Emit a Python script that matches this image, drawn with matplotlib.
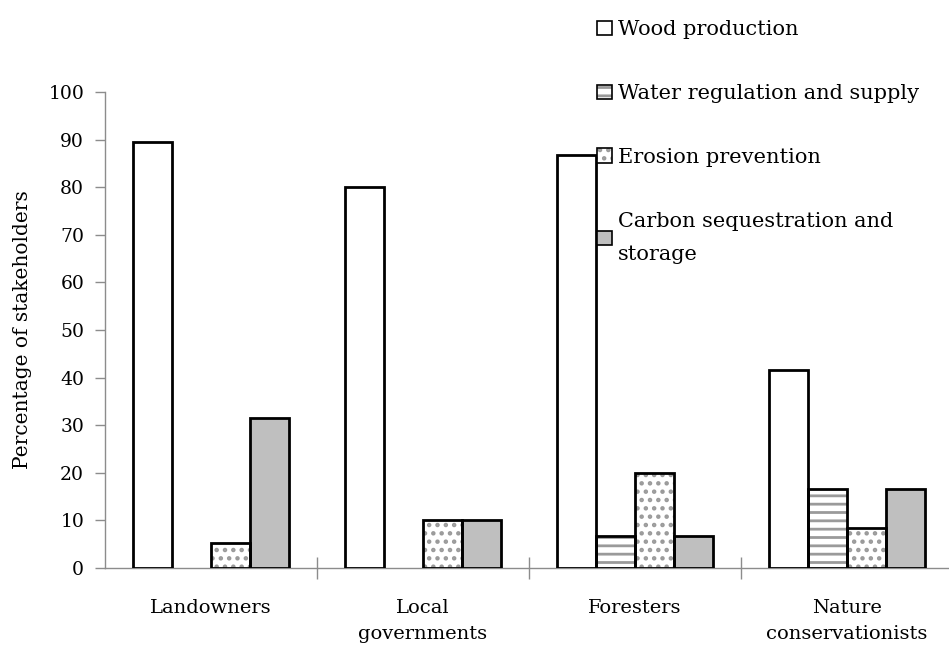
import numpy as np
import matplotlib
matplotlib.use("Agg")
import matplotlib.pyplot as plt
from matplotlib.patches import Rectangle

# ---- Data ----
groups = ["Landowners", "Local\ngovernments", "Foresters", "Nature\nconservationists"]
series = ["Wood production", "Water regulation and supply",
          "Erosion prevention", "Carbon sequestration and\nstorage"]
wood = [89.5, 80.0, 86.7, 41.7]
water = [0.0, 0.0, 6.7, 16.7]
erosion = [5.3, 10.0, 20.0, 8.3]
carbon = [31.6, 10.0, 6.7, 16.7]
yticks = list(range(0, 101, 10))

plt.rcParams["font.family"] = ["DejaVu Serif"]
plt.rcParams["font.size"] = 13.5
plt.rcParams["hatch.linewidth"] = 2.0

fig = plt.figure(figsize=(9.49, 6.48), dpi=100)
ax = fig.add_axes([105 / 949, 1 - 568 / 648, 848 / 949, 476 / 648])

x = np.arange(len(groups))
w = 0.184
fills = ["white", "white", "white", "#bfbfbf"]
hatches = [None, "--", "..", None]
values = [wood, water, erosion, carbon]
handles = []
for j, vals in enumerate(values):
    pos = x + (j - 1.5) * w
    # hatch layer (gray pattern)
    ax.bar(pos, vals, w, color=fills[j], edgecolor="#9a9a9a",
           hatch=hatches[j], linewidth=0, zorder=2)
    # black outline, skip zero-height bars
    vv = np.array(vals)
    mask = vv > 0
    ax.bar(pos[mask], vv[mask], w, fill=False, edgecolor="black",
           linewidth=2, zorder=3)
    inner = Rectangle((0, 0), 1, 1, facecolor=fills[j], edgecolor="#9a9a9a",
                      hatch=hatches[j], linewidth=0)
    outline = Rectangle((0, 0), 1, 1, fill=False, edgecolor="black",
                        linewidth=1.2)
    handles.append((inner, outline))

ax.set_xlim(-0.5, 3.5)
ax.set_ylim(0, 100)
ax.set_yticks(yticks)
ax.set_ylabel("Percentage of stakeholders", labelpad=12, fontsize=14.5)

ax.set_xticks(x)
ax.set_xticklabels(groups, linespacing=1.6, fontsize=14)
ax.tick_params(axis="x", length=0, pad=22)
ax.set_xticks(np.arange(0.5, 3.5, 1), minor=True)
ax.tick_params(axis="x", which="minor", direction="inout", length=16,
               color="#8c8c8c", width=1)
ax.tick_params(axis="y", direction="out", length=7, color="#8c8c8c", width=1,
               pad=8)

for s in ["top", "right"]:
    ax.spines[s].set_visible(False)
for s in ["left", "bottom"]:
    ax.spines[s].set_color("#8c8c8c")
    ax.spines[s].set_linewidth(1)

leg = fig.legend(handles, series, loc="upper left",
                 bbox_to_anchor=(589 / 949, 1 - 12 / 648), frameon=False,
                 handlelength=0.7, handleheight=0.7, handletextpad=0.3,
                 labelspacing=2.15, fontsize=15, borderaxespad=0)
for t in leg.get_texts():
    t.set_linespacing(1.95)

fig.savefig("out.png", dpi=100)
